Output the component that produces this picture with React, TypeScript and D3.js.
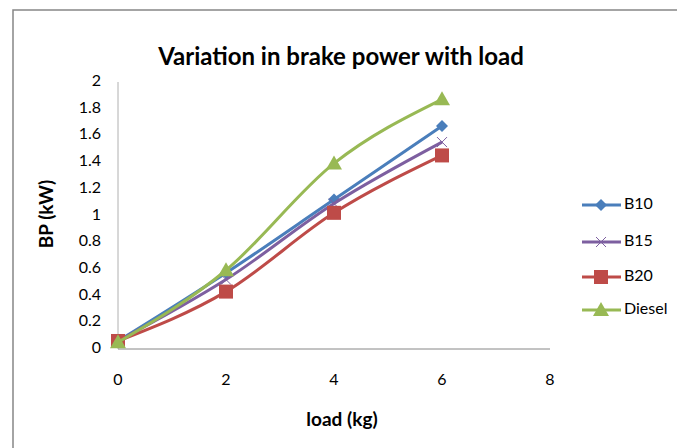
import * as d3 from 'd3';

const loads = [0, 2, 4, 6];
const seriesNames = ['B10', 'B15', 'B20', 'Diesel'];
const b10 = [0.06, 0.57, 1.12, 1.67];
const b15 = [0.06, 0.52, 1.09, 1.55];
const b20 = [0.06, 0.43, 1.02, 1.45];
const diesel = [0.05, 0.59, 1.39, 1.87];
const xTicks = [0, 2, 4, 6, 8];
const yTicks = [0, 0.2, 0.4, 0.6, 0.8, 1, 1.2, 1.4, 1.6, 1.8, 2];

const colors = ['#4A7EBB', '#7D5FA0', '#BE4B48', '#98B954'];
const font = 'Lato, Carlito, "Open Sans", sans-serif';

function Marker({ kind, x, y, color }: { kind: string; x: number; y: number; color: string }) {
  if (kind === 'B10') {
    const s = 6;
    return <path d={`M${x},${y - s}L${x + s},${y}L${x},${y + s}L${x - s},${y}Z`} fill={color} />;
  }
  if (kind === 'B15') {
    const s = 5;
    return (
      <path d={`M${x - s},${y - s}L${x + s},${y + s}M${x - s},${y + s}L${x + s},${y - s}`} stroke={color} strokeWidth={1} fill="none" />
    );
  }
  if (kind === 'B20') {
    const s = 7;
    return <rect x={x - s} y={y - s} width={2 * s} height={2 * s} fill={color} />;
  }
  const s = 8;
  return <path d={`M${x},${y - s}L${x + s},${y + s * 0.75}L${x - s},${y + s * 0.75}Z`} fill={color} />;
}

export default function App() {
  const width = 677;
  const height = 448;
  const x = d3.scaleLinear().domain([0, 8]).range([118, 550]);
  const y = d3.scaleLinear().domain([0, 2]).range([349, 82]);
  const data = [b10, b15, b20, diesel];

  const line = d3
    .line<number>()
    .x((_, i) => x(loads[i]))
    .y(d => y(d))
    .curve(d3.curveMonotoneX);

  const legendY = [205, 242, 277, 310];

  return (
    <svg width={width} height={height} style={{ position: 'absolute', left: 0, top: 0, background: '#fff' }}>
      <rect x={13} y={10} width={700} height={460} fill="#fff" stroke="#868686" strokeWidth={1.5} />

      <text x={341} y={65} textAnchor="middle" fontFamily={font} fontWeight="bold" fontSize={24} fill="#000">
        Variation in brake power with load
      </text>

      {/* axes */}
      <line x1={118} x2={118} y1={82} y2={349} stroke="#b0b0b0" strokeWidth={1} />
      <line x1={118} x2={550} y1={349} y2={349} stroke="#868686" strokeWidth={1} />

      {yTicks.map(t => (
        <text key={t} x={101} y={y(t)} textAnchor="end" dominantBaseline="middle" fontFamily={font} fontSize={16} fill="#000">
          {t}
        </text>
      ))}
      {xTicks.map(t => (
        <text key={t} x={x(t)} y={381} textAnchor="middle" dominantBaseline="middle" fontFamily={font} fontSize={16} fill="#000">
          {t}
        </text>
      ))}

      <text x={342} y={426} textAnchor="middle" fontFamily={font} fontWeight="bold" fontSize={19} fill="#000">
        load (kg)
      </text>
      <text
        transform={`translate(48,214) rotate(-90)`}
        textAnchor="middle"
        dominantBaseline="middle"
        fontFamily={font}
        fontWeight="bold"
        fontSize={19}
        fill="#000"
      >
        BP (kW)
      </text>

      {/* series */}
      {data.map((vals, si) => (
        <g key={seriesNames[si]}>
          <path d={line(vals) || ''} fill="none" stroke={colors[si]} strokeWidth={3} />
          {vals.map((v, i) => (
            <Marker key={i} kind={seriesNames[si]} x={x(loads[i])} y={y(v)} color={colors[si]} />
          ))}
        </g>
      ))}

      {/* legend */}
      {seriesNames.map((n, i) => (
        <g key={n}>
          <line x1={582} x2={621} y1={legendY[i]} y2={legendY[i]} stroke={colors[i]} strokeWidth={3} />
          <Marker kind={n} x={601} y={legendY[i]} color={colors[i]} />
          <text x={624} y={legendY[i]} dominantBaseline="middle" fontFamily={font} fontSize={16} fill="#000">
            {n}
          </text>
        </g>
      ))}
    </svg>
  );
}
